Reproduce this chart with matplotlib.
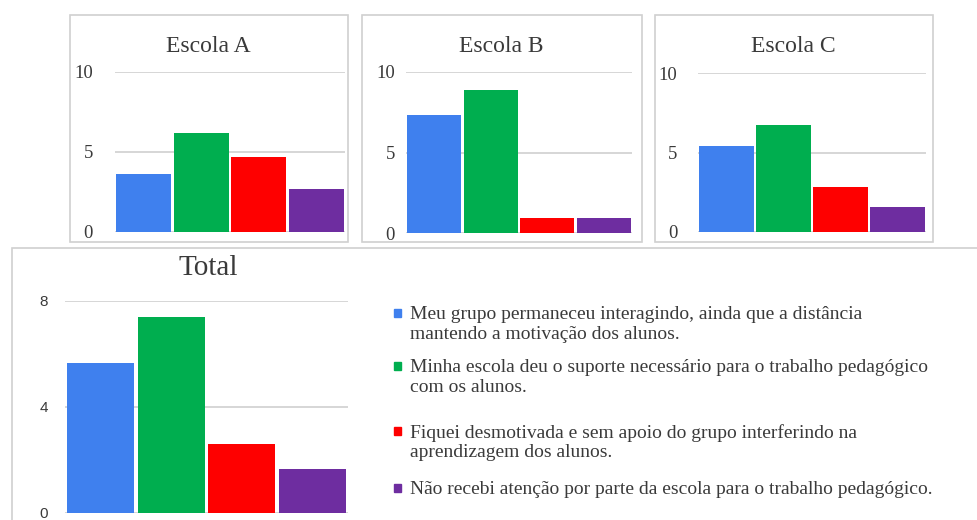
import matplotlib.pyplot as plt
from matplotlib.patches import Rectangle

categorias = [
    "Meu grupo permaneceu interagindo, ainda que a distância\nmantendo a motivação dos alunos.",
    "Minha escola deu o suporte necessário para o trabalho pedagógico\ncom os alunos.",
    "Fiquei desmotivada e sem apoio do grupo interferindo na\naprendizagem dos alunos.",
    "Não recebi atenção por parte da escola para o trabalho pedagógico.",
]
cores = ["#3F80EE", "#00AE4F", "#FE0000", "#6E2DA0"]

escola_a = [3.6, 6.2, 4.7, 2.7]
escola_b = [7.3, 8.9, 0.95, 0.95]
escola_c = [5.4, 6.7, 2.8, 1.6]
total = [5.65, 7.4, 2.6, 1.65]

W, H = 978, 520
fig = plt.figure(figsize=(W / 100, H / 100), dpi=100)

def px_axes(x0, y0, x1, y1):
    # pixel box (y from top) -> figure axes
    return fig.add_axes([x0 / W, 1 - y1 / H, (x1 - x0) / W, (y1 - y0) / H])

def frame(x0, y0, x1, y1):
    fig.patches.append(Rectangle((x0 / W, 1 - y1 / H), (x1 - x0) / W, (y1 - y0) / H,
                                 transform=fig.transFigure, fill=False,
                                 edgecolor="#d0d0d0", linewidth=1.2))

serif = "Liberation Serif"

def mini(ax, vals, ymax, ticks, tickfont, tsize, pad):
    ax.bar(range(4), vals, width=0.95, color=cores, zorder=2)
    ax.set_xlim(-0.5, 3.5)
    ax.set_ylim(0, ymax)
    ax.set_yticks(ticks)
    ax.set_xticks([])
    ax.yaxis.grid(True, color="#cfcfcf", linewidth=1.2, zorder=0)
    ax.set_axisbelow(True)
    for s in ax.spines.values():
        s.set_visible(False)
    ax.tick_params(axis="y", length=0, pad=pad, labelsize=tsize, labelcolor="#3a3a3a")
    for lab in ax.get_yticklabels():
        lab.set_family(tickfont)
    ax.set_facecolor("none")

frame(70, 15, 348, 242)
frame(362, 15, 642, 242)
frame(655, 15, 933, 242)
frame(12, 248, 990, 530)

ax_a = px_axes(115, 72, 345, 232)
mini(ax_a, escola_a, 10, [0, 5, 10], serif, 13.5, 16)
ax_b = px_axes(406, 72, 632, 233)
mini(ax_b, escola_b, 10, [0, 5, 10], serif, 13.5, 8)
ax_c = px_axes(698, 73, 926, 232)
mini(ax_c, escola_c, 10, [0, 5, 10], serif, 13.5, 15)
ax_t = px_axes(65, 301, 348, 513)
mini(ax_t, total, 8, [0, 4, 8], "Liberation Sans", 11, 12)

fig.text(208 / W, 1 - 46 / H, "Escola A", family=serif, fontsize=17, color="#3a3a3a", ha="center", va="center")
fig.text(501 / W, 1 - 46 / H, "Escola B", family=serif, fontsize=17, color="#3a3a3a", ha="center", va="center")
fig.text(793 / W, 1 - 46 / H, "Escola C", family=serif, fontsize=17, color="#3a3a3a", ha="center", va="center")
fig.text(208 / W, 1 - 268 / H, "Total", family=serif, fontsize=21, color="#3a3a3a", ha="center", va="center")

# legenda
leg_y = [313, 366, 431, 488]
for cor, texto, y in zip(cores, categorias, leg_y):
    fig.patches.append(Rectangle((394 / W, 1 - (y + 4) / H), 7 / W, 8 / H,
                                 transform=fig.transFigure, color=cor))
    fig.text(410 / W, 1 - (y - 7) / H, texto, family=serif, fontsize=14,
             color="#3a3a3a", ha="left", va="top", linespacing=1.2)

fig.savefig("out.png", dpi=100)
